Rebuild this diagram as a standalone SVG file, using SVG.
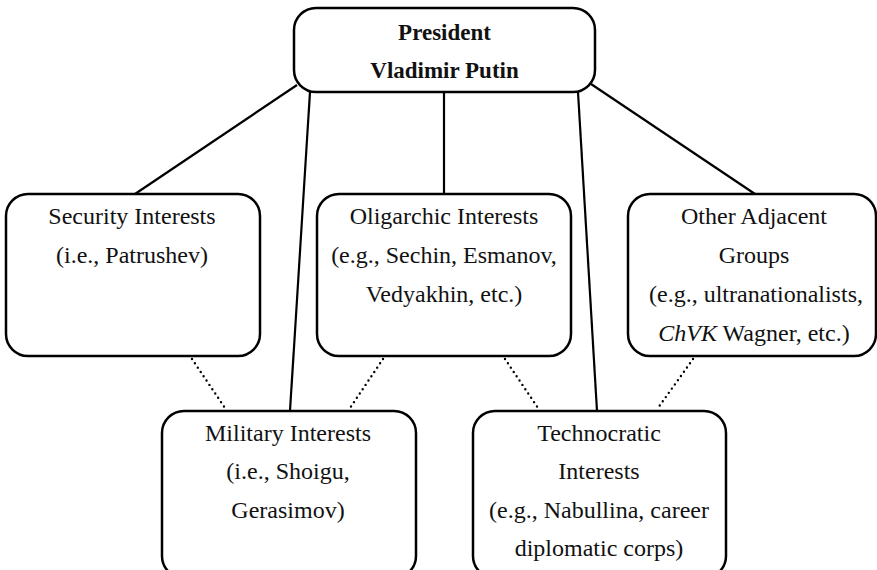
<svg xmlns="http://www.w3.org/2000/svg" width="877" height="570" viewBox="0 0 877 570">
<style>
.box{fill:#fff;stroke:#000;stroke-width:2.5}
.t{font-family:"Liberation Serif","Times New Roman",serif;font-size:24px;fill:#111;text-anchor:middle}
.b{font-weight:bold;font-size:23px}
.solid{stroke:#000;stroke-width:2.2;fill:none}
.dot{stroke:#000;stroke-width:2.4;fill:none;stroke-dasharray:0 5.2;stroke-linecap:round}
</style>
<rect width="877" height="570" fill="#fff"/>
<g id="connectors">
<line class="solid" x1="297" y1="85" x2="135" y2="194"/>
<line class="solid" x1="310" y1="92" x2="290" y2="411"/>
<line class="solid" x1="444" y1="92" x2="444" y2="194"/>
<line class="solid" x1="578" y1="92" x2="597" y2="411"/>
<line class="solid" x1="591" y1="84" x2="755" y2="194"/>
<line class="dot" x1="192" y1="359" x2="225" y2="408"/>
<line class="dot" x1="383" y1="359" x2="350" y2="408"/>
<line class="dot" x1="505" y1="359" x2="538" y2="408"/>
<line class="dot" x1="693" y1="359" x2="658" y2="408"/>
</g>
<g id="president">
<rect class="box" x="294" y="8" width="301" height="84" rx="22"/>
<text class="t b" x="444.5" y="40">President</text>
<text class="t b" x="444.5" y="78">Vladimir Putin</text>
</g>
<g id="security">
<rect class="box" x="6" y="194" width="254" height="162" rx="22"/>
<text class="t" x="132" y="224">Security Interests</text>
<text class="t" x="132" y="263">(i.e., Patrushev)</text>
</g>
<g id="oligarchic">
<rect class="box" x="317" y="194" width="254" height="162" rx="22"/>
<text class="t" x="444" y="224">Oligarchic Interests</text>
<text class="t" x="444" y="263">(e.g., Sechin, Esmanov,</text>
<text class="t" x="444" y="302">Vedyakhin, etc.)</text>
</g>
<g id="other">
<rect class="box" x="628" y="194" width="248" height="162" rx="22"/>
<text class="t" x="754" y="224">Other Adjacent</text>
<text class="t" x="754" y="263">Groups</text>
<text class="t" x="756" y="302">(e.g., ultranationalists,</text>
<text class="t" x="754" y="341"><tspan font-style="italic">ChVK</tspan> Wagner, etc.)</text>
</g>
<g id="military">
<rect class="box" x="162" y="411" width="254" height="167" rx="22"/>
<text class="t" x="288" y="441">Military Interests</text>
<text class="t" x="288" y="479">(i.e., Shoigu,</text>
<text class="t" x="288" y="518">Gerasimov)</text>
</g>
<g id="technocratic">
<rect class="box" x="473" y="411" width="253" height="167" rx="22"/>
<text class="t" x="599" y="441">Technocratic</text>
<text class="t" x="599" y="479">Interests</text>
<text class="t" x="599" y="518">(e.g., Nabullina, career</text>
<text class="t" x="599" y="556">diplomatic corps)</text>
</g>
</svg>
